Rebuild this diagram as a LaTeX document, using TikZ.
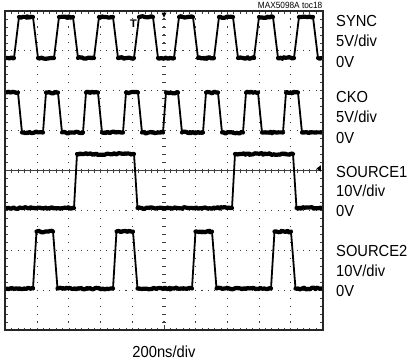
\documentclass[tikz,border=0pt]{standalone}
\usepackage{fontspec}
\setmainfont{Liberation Sans}
\newfontfamily\narrowfont[FakeStretch=0.92]{Liberation Sans}
\usepackage{tikz}
\usetikzlibrary{decorations.pathmorphing}

\begin{document}
\begin{tikzpicture}[x=1bp, y=-1bp,
		frame/.style={draw=black!85, line width=2bp},
		griddots/.style={black!75, line width=1.1bp},
		tick/.style={black!75, line width=0.8bp},
		edge/.style={line width=1.8bp, line join=round},
		band/.style={line width=4.2bp, line join=round, line cap=round, decorate, decoration={random steps, segment length=1.5bp, amplitude=0.9bp}},
		scalelabel/.style={anchor=base west, inner sep=0pt, font=\narrowfont\fontsize{16bp}{20bp}\selectfont}]
	\useasboundingbox (0,0) rectangle (408,362);

	\begin{scope}
		\foreach \i in {1,2,3,4,6,7,8,9}
			\draw[griddots, dash pattern=on 1.1bp off 6.875bp, dash phase=0.55bp] ({5.5+31.7*\i},11) -- ({5.5+31.7*\i},330);
		\foreach \j in {1,2,3,5,6,7}
			\draw[griddots, dash pattern=on 1.1bp off 5.24bp, dash phase=0.55bp] (5.5,{11+39.875*\j}) -- (322.5,{11+39.875*\j});
		\draw[griddots, dash pattern=on 1.1bp off 6.875bp, dash phase=0.55bp] (164,11) -- (164,330);
		\draw[tick] (5.5,170.5) -- (322.5,170.5);
		\foreach \m in {1,...,49} {
			\draw[tick] ({5.5+6.34*\m},168.5) -- ++(0,4);
			\draw[tick] ({5.5+6.34*\m},11) -- ++(0,2.5);
			\draw[tick] ({5.5+6.34*\m},330) -- ++(0,-2.5);
		}
		\foreach \m in {1,...,39} {
			\draw[tick] (162,{11+7.975*\m}) -- ++(4,0);
			\draw[tick] (5.5,{11+7.975*\m}) -- ++(2.5,0);
			\draw[tick] (322.5,{11+7.975*\m}) -- ++(-2.5,0);
		}
		\draw[tick] (164,330) -- ++(0,-5.5);
	\end{scope}

	% SYNC
	\draw[edge] (6.5,58) \foreach \r in {14,54,...,294} { -- (\r,58) -- ({\r+5},17) -- ({\r+19},17) -- ({\r+24},58) } -- (321.5,58);
	\foreach \r in {14,54,...,294}
		\draw[band] ({\r+5},17) -- ({\r+19},17);
	\foreach \r in {-26,14,...,294}
		\draw[band] ({max(\r+24,6.5)},58) -- ({min(\r+40,321.5)},58);

	% CKO
	\draw[edge] (6.5,92.5) -- (18,92.5) -- (22,132.5) \foreach \r in {43,83,...,283} { -- (\r,132.5) -- ({\r+3},92.5) -- ({\r+15},92.5) -- ({\r+19},132.5) } -- (321.5,132.5);
	\foreach \r in {3,43,...,283} {
		\draw[band] ({max(\r+3,6.5)},92.5) -- ({\r+15},92.5);
		\draw[band] ({\r+19},132.5) -- ({min(\r+40,321.5)},132.5);
	}

	% SOURCE1
	\draw[edge] (6.5,208) -- (74,208) -- (77,154) -- (134,154) -- (137.5,208) -- (232,208) -- (235,154) -- (293,154) -- (296.5,208) -- (321.5,208);
	\draw[band] (6.5,208) -- (74,208);
	\draw[band] (77,154) -- (134,154);
	\draw[band] (137.5,208) -- (232,208);
	\draw[band] (235,154) -- (293,154);
	\draw[band] (296.5,208) -- (321.5,208);

	% SOURCE2
	\draw[edge] (6.5,288.5) \foreach \r in {33,113,192,271} { -- (\r,288.5) -- ({\r+3.5},231.5) -- ({\r+20},231.5) -- ({\r+24.5},288.5) } -- (321.5,288.5);
	\draw[band] (6.5,288.5) -- (33,288.5);
	\foreach \r/\n in {33/113,113/192,192/271,271/321.5} {
		\draw[band] ({\r+3.5},231.5) -- ({\r+20},231.5);
		\draw[band] ({\r+24.5},288.5) -- (\n,288.5);
	}

	\draw[frame] (5.5,11) rectangle (322.5,330);

	% markers
	\node[fill=white, inner sep=0.4bp, font=\bfseries\fontsize{11bp}{11bp}\selectfont] (trigger) at (133.5,23.5) {T};
	\fill (161.5,12.5) -- (166.5,12.5) -- (164,17.5) -- cycle;
	\fill (316.5,168.5) -- (320.8,165.3) -- (320.8,171.7) -- cycle;

	\node[anchor=base east, inner sep=0pt, font=\narrowfont\fontsize{9bp}{9bp}\selectfont] (toc) at (322.5,8.5) {MAX5098A toc18};

	\node[scalelabel] (sync-name) at (336,26) {SYNC};
	\node[scalelabel] (sync-div) at (336,46.5) {5V/div};
	\node[scalelabel] (sync-zero) at (336,67) {0V};
	\node[scalelabel] (cko-name) at (336,102) {CKO};
	\node[scalelabel] (cko-div) at (336,122.5) {5V/div};
	\node[scalelabel] (cko-zero) at (336,143) {0V};
	\node[scalelabel] (src1-name) at (336,177) {SOURCE1};
	\node[scalelabel] (src1-div) at (336,196.5) {10V/div};
	\node[scalelabel] (src1-zero) at (336,216) {0V};
	\node[scalelabel] (src2-name) at (336,256) {SOURCE2};
	\node[scalelabel] (src2-div) at (336,276) {10V/div};
	\node[scalelabel] (src2-zero) at (336,296) {0V};

	\node[scalelabel, anchor=base] (timebase) at (164,357) {200ns/div};
\end{tikzpicture}
\end{document}
